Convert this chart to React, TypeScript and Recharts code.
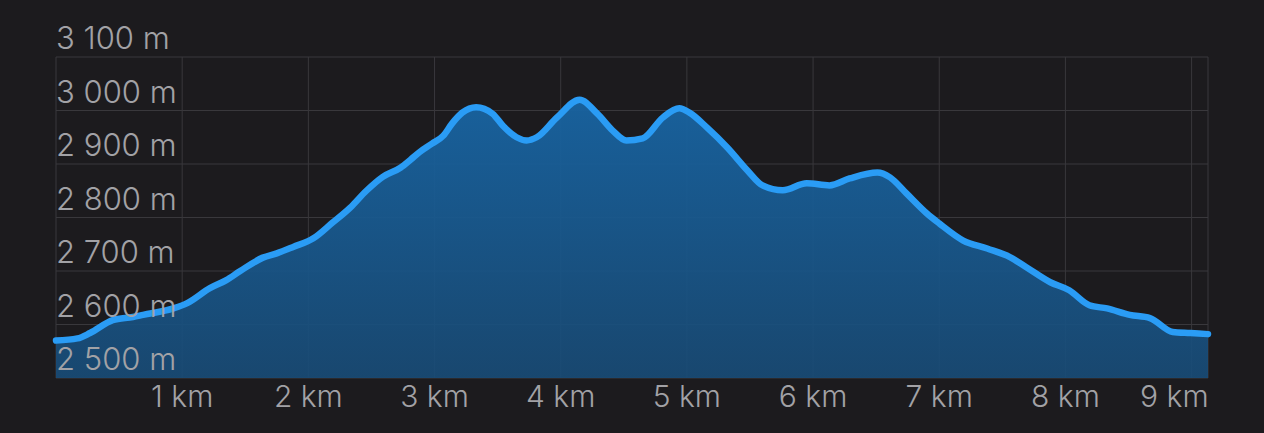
import { Area, AreaChart, CartesianGrid, XAxis, YAxis } from "recharts";

// distance along the route (km) and elevation (m)
const distanceKm = [
	0, 0.17, 0.27, 0.45, 0.61, 0.69, 0.93, 1.04, 1.22, 1.35, 1.46, 1.64, 1.75,
	1.88, 2.04, 2.19, 2.33, 2.46, 2.59, 2.73, 2.81, 2.88, 2.98, 3.07, 3.14, 3.22,
	3.33, 3.46, 3.54, 3.65, 3.73, 3.81, 3.97, 4.15, 4.29, 4.41, 4.52, 4.65, 4.81,
	4.94, 5.02, 5.16, 5.32, 5.48, 5.6, 5.76, 5.95, 6.13, 6.29, 6.51, 6.61, 6.74,
	6.9, 7.0, 7.19, 7.38, 7.56, 7.69, 7.88, 8.03, 8.19, 8.33, 8.51, 8.67, 8.85,
	8.99, 9.13,
];
const elevationM = [
	2570, 2574, 2584, 2608, 2614, 2618, 2630, 2640, 2668, 2683, 2700, 2725, 2733,
	2745, 2761, 2790, 2818, 2850, 2876, 2893, 2908, 2922, 2938, 2953, 2976, 2996,
	3006, 2994, 2972, 2950, 2944, 2950, 2987, 3020, 2994, 2963, 2944, 2948, 2987,
	3004, 2996, 2968, 2931, 2888, 2860, 2851, 2864, 2860, 2873, 2884, 2875, 2845,
	2808, 2789, 2757, 2742, 2726, 2707, 2679, 2664, 2636, 2630, 2618, 2612, 2586,
	2584, 2582,
];
const kmTicks = [1, 2, 3, 4, 5, 6, 7, 8, 9];
const elevationTicks = [2500, 2600, 2700, 2800, 2900, 3000, 3100];

const data = distanceKm.map((km, i) => ({ km, elevation: elevationM[i] }));

const LABEL = "#a2a2a6";
const FONT = "Inter, Roboto, sans-serif";

const fmtElevation = (v: number) => {
	const s = String(v);
	return `${s.slice(0, s.length - 3)} ${s.slice(-3)} m`;
};

const YTick = (props: any) => {
	const { x, y, payload } = props;
	return (
		<text
			x={x}
			y={y - 8}
			fill={LABEL}
			fontSize={31}
			fontWeight={300}
			fontFamily={FONT}
			textAnchor="start"
		>
			{fmtElevation(payload.value)}
		</text>
	);
};

const XTick = (props: any) => {
	const { x, y, payload, index } = props;
	// the last label is pulled in so it stays inside the plot
	const last = index === kmTicks.length - 1;
	return (
		<text
			x={last ? x + 17 : x}
			y={y + 29}
			fill={LABEL}
			fontSize={30}
			fontWeight={300}
			fontFamily={FONT}
			textAnchor={last ? "end" : "middle"}
		>
			{`${payload.value} km`}
		</text>
	);
};

export default function App() {
	return (
		<div
			style={{
				position: "fixed",
				left: 0,
				top: 0,
				width: 1264,
				height: 433,
				background: "#1c1b1e",
			}}
		>
			<AreaChart
				width={1264}
				height={433}
				data={data}
				margin={{ top: 57, right: 56, bottom: 0, left: 0 }}
			>
				<defs>
					<linearGradient id="elevFill" x1="0" y1="0" x2="0" y2="1">
						<stop offset="0%" stopColor="#1864a2" stopOpacity={0.95} />
						<stop offset="100%" stopColor="#184c78" stopOpacity={0.9} />
					</linearGradient>
				</defs>
				<CartesianGrid stroke="#39383c" strokeWidth={1} />
				<XAxis
					type="number"
					dataKey="km"
					domain={[0, 9.13]}
					ticks={kmTicks}
					axisLine={false}
					tickLine={false}
					tickSize={0}
					tickMargin={0}
					height={55}
					tick={<XTick />}
					interval={0}
				/>
				<YAxis
					type="number"
					domain={[2500, 3100]}
					ticks={elevationTicks}
					axisLine={false}
					tickLine={false}
					tickSize={0}
					tickMargin={0}
					width={56}
					tick={<YTick />}
					interval={0}
				/>
				<Area
					type="monotone"
					dataKey="elevation"
					stroke="#2a9cf5"
					strokeWidth={6.5}
					strokeLinecap="round"
					strokeLinejoin="round"
					fill="url(#elevFill)"
					fillOpacity={1}
					dot={false}
					activeDot={false}
					isAnimationActive={false}
				/>
			</AreaChart>
		</div>
	);
}
